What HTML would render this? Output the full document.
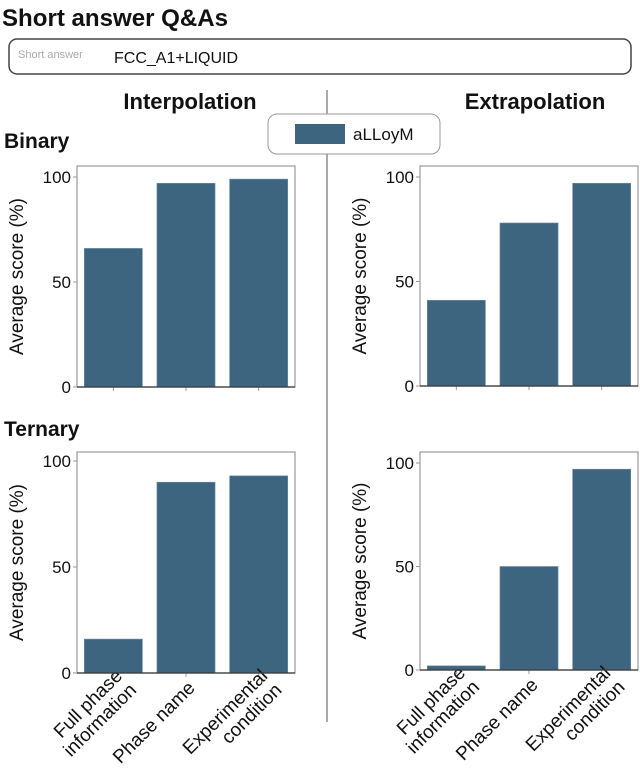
<!DOCTYPE html>
<html><head><meta charset="utf-8"><style>
body{margin:0;background:#fff;}
svg{display:block;font-family:"Liberation Sans",sans-serif;}
</style></head><body>
<svg id="fig" width="640" height="768" viewBox="0 0 640 768">
<text x="2" y="26" font-size="24" font-weight="bold" fill="#111" textLength="226" lengthAdjust="spacingAndGlyphs">Short answer Q&amp;As</text>
<rect x="9" y="39" width="622" height="35" rx="8" fill="#fff" stroke="#444" stroke-width="1.5"/>
<text x="18" y="58" font-size="11" fill="#aaa">Short answer</text>
<text x="114" y="63" font-size="16" fill="#111">FCC_A1+LIQUID</text>
<line x1="327" y1="90" x2="327" y2="722" stroke="#555" stroke-width="1"/>
<text x="190" y="109" font-size="22" font-weight="bold" text-anchor="middle" fill="#111">Interpolation</text>
<text x="535" y="109" font-size="22" font-weight="bold" text-anchor="middle" fill="#111">Extrapolation</text>
<text x="4" y="148" font-size="21" font-weight="bold" fill="#111">Binary</text>
<text x="4" y="436" font-size="21" font-weight="bold" fill="#111">Ternary</text>
<g>
<rect x="268" y="114" width="172" height="40" rx="9" fill="#fff" stroke="#999" stroke-width="1"/>
<rect x="295" y="124" width="50" height="20" fill="#3e6580"/>
<text x="353" y="140" font-size="17" fill="#111">aLLoyM</text>
</g>
<g id="charts"></g>
</svg>
<script>
const categories=["Full phase|information","Phase name","Experimental|condition"];
const binaryInterp=[66,97,99];
const binaryExtrap=[41,78,97];
const ternaryInterp=[16,90,93];
const ternaryExtrap=[2,50,97];
const yTicks=[0,50,100];
const NS="http://www.w3.org/2000/svg";
const root=document.getElementById('charts');
function mk(tag,attrs,parent){const e=document.createElementNS(NS,tag);for(const k in attrs)e.setAttribute(k,attrs[k]);parent.appendChild(e);return e;}
function chart(name,vals,x0,x1,top,y100,y0,showCats){
  const g=mk('g',{},root);
  
  
  const ys=v=>y0+(y100-y0)*v/100;
  const band=(x1-x0)/vals.length;
  vals.forEach((v,i)=>{
    const r=mk('rect',{x:x0+band*i+band*0.1,y:ys(v),width:band*0.8,height:y0-ys(v),fill:'#3e6580',stroke:'#6f8fa5','stroke-width':0.6},g);
    
    
    mk('line',{x1:x0+band*(i+0.5),x2:x0+band*(i+0.5),y1:y0,y2:y0+4,stroke:'#999'},g);
    if(showCats){
      const cx=x0+band*(i+0.5);
      const lines=categories[i].split('|');
      const t=mk('text',{transform:`translate(${cx+10},${y0+(lines.length>1?4:16)}) rotate(-45)`,'font-size':19,'text-anchor':'end',fill:'#111'},g);
      
      
      lines.forEach((l,j)=>{const s=mk('tspan',{x:0,dy:j==0?0:20},t);s.textContent=l;});
    }
  });
  mk('rect',{x:x0,y:top,width:x1-x0,height:y0-top,fill:'none',stroke:'#999','stroke-width':1.2},g);
  mk('line',{x1:x0,x2:x1,y1:y0,y2:y0,stroke:'#333','stroke-width':1.2},g);
  yTicks.forEach(v=>{
    mk('line',{x1:x0-4,x2:x0,y1:ys(v),y2:ys(v),stroke:'#999'},g);
    const t=mk('text',{x:x0-6,y:ys(v)+6,'font-size':17,'text-anchor':'end',fill:'#111'},g);
    
    
    t.textContent=v;
  });
  const yt=mk('text',{transform:`translate(${x0-54},${(top+y0)/2}) rotate(-90)`,'font-size':19,'text-anchor':'middle',fill:'#111'},g);
  
  
  yt.textContent='Average score (%)';
}
chart('binary-interpolation-chart',binaryInterp,77,295,166,177,387,false);
chart('binary-extrapolation-chart',binaryExtrap,420,638,166,177,386,false);
chart('ternary-interpolation-chart',ternaryInterp,77,295,452,461,673,true);
chart('ternary-extrapolation-chart',ternaryExtrap,420,638,452,463,670,true);
</script>
</body></html>
